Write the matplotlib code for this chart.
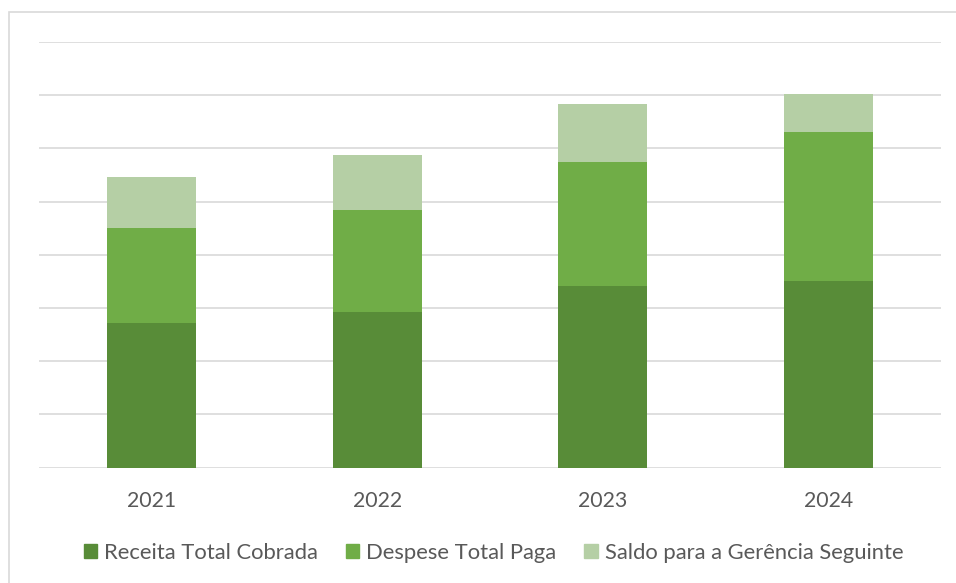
import matplotlib.pyplot as plt
import matplotlib.patches as mpatches
import numpy as np

anos = ['2021', '2022', '2023', '2024']
receita = [2.72, 2.93, 3.42, 3.51]
despesa = [1.78, 1.91, 2.33, 2.80]
saldo = [0.96, 1.03, 1.09, 0.71]
series_nomes = ['Receita Total Cobrada', 'Despese Total Paga', 'Saldo para a Gerência Seguinte']
cores = ['#588C38', '#70AD47', '#B5CFA5']

plt.rcParams['font.family'] = ['Lato', 'DejaVu Sans']
cinza = '#595959'

fig = plt.figure(figsize=(9.56, 5.83), dpi=100)
ax = fig.add_axes([39/956, 115.5/583, 902/956, 425.5/583])

x = np.arange(len(anos))
largura = 0.395
base = np.zeros(len(anos))
for valores, cor, nome in zip([receita, despesa, saldo], cores, series_nomes):
    ax.bar(x, valores, largura, bottom=base, color=cor, label=nome, zorder=3)
    base = base + np.array(valores)

ax.set_xlim(-0.5, len(anos) - 0.5)
ax.set_ylim(0, 8)
ax.set_yticks(np.arange(0, 9, 1))
ax.yaxis.grid(True, color='#D9D9D9', linewidth=1.2, zorder=0)
ax.tick_params(axis='y', left=False, labelleft=False)
ax.tick_params(axis='x', length=0, pad=17, labelsize=15.3, labelcolor=cinza)
ax.set_xticks(x)
ax.set_xticklabels(anos)
for s in ax.spines.values():
    s.set_visible(False)

# moldura do gráfico
moldura = mpatches.Rectangle((8.5/956, -0.1), 2, 1.1 - 12.5/583, transform=fig.transFigure,
                             fill=False, edgecolor='#D9D9D9', linewidth=1.2)
fig.patches.append(moldura)

handles = [mpatches.Patch(color=c) for c in cores]
fig.legend(handles, series_nomes, loc='center', bbox_to_anchor=(493.5/956, 1 - 553/583),
           ncol=3, frameon=False, fontsize=15.8, labelcolor=cinza,
           handlelength=0.6, handleheight=0.6, handletextpad=0.32, columnspacing=1.28)

fig.savefig('out.png', dpi=100)
